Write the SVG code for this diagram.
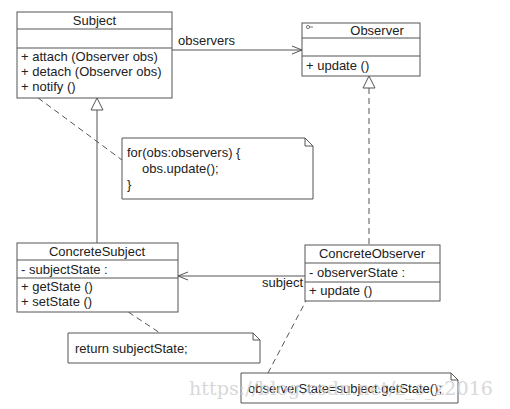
<svg xmlns="http://www.w3.org/2000/svg" width="510" height="409" viewBox="0 0 510 409">
<style>
.box{fill:#fff;stroke:#555;stroke-width:1}
.ln{stroke:#555;stroke-width:1;fill:none}
.dash{stroke:#555;stroke-width:1;fill:none;stroke-dasharray:6,4}
.t{font-family:"Liberation Sans",Arial,sans-serif;font-size:13px;fill:#222}
.c{text-anchor:middle}
.wm{font-family:"DejaVu Serif","Liberation Serif",serif;font-size:18px;fill:#cfcfcf;opacity:0.8}
</style>
<rect width="510" height="409" fill="#fff"/>
<g id="connectors">
<line class="ln" x1="172" y1="50" x2="302" y2="50"/>
<polyline class="ln" points="292,46 302,50 292,54"/>
<text class="t" x="178" y="45">observers</text>
<line class="ln" x1="97" y1="110" x2="97" y2="243"/>
<polygon class="box" points="97,98 91,110 103,110"/>
<line class="dash" x1="369" y1="88" x2="369" y2="245"/>
<polygon class="box" points="369,76 363,88 375,88"/>
<line class="ln" x1="305" y1="276" x2="178" y2="276"/>
<polyline class="ln" points="188,272 178,276 188,280"/>
<text class="t" x="262" y="287">subject</text>
<line class="dash" x1="22" y1="86" x2="122" y2="160"/>
<line class="dash" x1="95" y1="290" x2="160" y2="333"/>
<line class="dash" x1="308" y1="297" x2="268" y2="373"/>
</g>
<g id="subject">
<rect class="box" x="17" y="12" width="155" height="86"/>
<line class="ln" x1="17" y1="29" x2="172" y2="29"/>
<line class="ln" x1="17" y1="48" x2="172" y2="48"/>
<text class="t c" x="94.5" y="25">Subject</text>
<text class="t" x="21" y="61">+ attach (Observer obs)</text>
<text class="t" x="21" y="76">+ detach (Observer obs)</text>
<text class="t" x="21" y="91">+ notify ()</text>
</g>
<g id="observer">
<rect class="box" x="302" y="23" width="118" height="53"/>
<line class="ln" x1="302" y1="38" x2="420" y2="38"/>
<line class="ln" x1="302" y1="56" x2="420" y2="56"/>
<circle cx="308" cy="27" r="1.6" fill="none" stroke="#555" stroke-width="0.8"/>
<line x1="309.6" y1="27" x2="313" y2="27" stroke="#555" stroke-width="0.8"/>
<text class="t c" x="377" y="35">Observer</text>
<text class="t" x="306" y="70">+ update ()</text>
</g>
<g id="concreteSubject">
<rect class="box" x="17" y="243" width="161" height="69"/>
<line class="ln" x1="17" y1="260" x2="178" y2="260"/>
<line class="ln" x1="17" y1="278" x2="178" y2="278"/>
<text class="t c" x="97" y="256">ConcreteSubject</text>
<text class="t" x="21" y="274">- subjectState  :</text>
<text class="t" x="21" y="291">+ getState ()</text>
<text class="t" x="21" y="306">+ setState ()</text>
</g>
<g id="concreteObserver">
<rect class="box" x="305" y="245" width="135" height="56"/>
<line class="ln" x1="305" y1="263" x2="440" y2="263"/>
<line class="ln" x1="305" y1="282" x2="440" y2="282"/>
<text class="t c" x="372" y="258">ConcreteObserver</text>
<text class="t" x="309" y="277">- observerState  :</text>
<text class="t" x="309" y="295">+ update ()</text>
</g>
<g id="note1">
<polygon class="box" points="122,138 305,138 313,146 313,199 122,199"/>
<polyline class="ln" points="305,138 305,146 313,146"/>
<text class="t" x="127" y="157">for(obs:observers) {</text>
<text class="t" x="142" y="173">obs.update();</text>
<text class="t" x="127" y="189">}</text>
</g>
<g id="note2">
<polygon class="box" points="68,333 253,333 260,340 260,363 68,363"/>
<polyline class="ln" points="253,333 253,340 260,340"/>
<text class="t" x="75" y="353">return subjectState;</text>
</g>
<g id="note3">
<polygon class="box" points="241,373 451,373 458,380 458,403 241,403"/>
<polyline class="ln" points="451,373 451,380 458,380"/>
<text class="t" x="248" y="393">observerState=subject.getState();</text>
</g>
<text class="wm" x="189" y="395" textLength="304" lengthAdjust="spacingAndGlyphs">https://blog.csdn.net/z_s_z2016</text>
</svg>
